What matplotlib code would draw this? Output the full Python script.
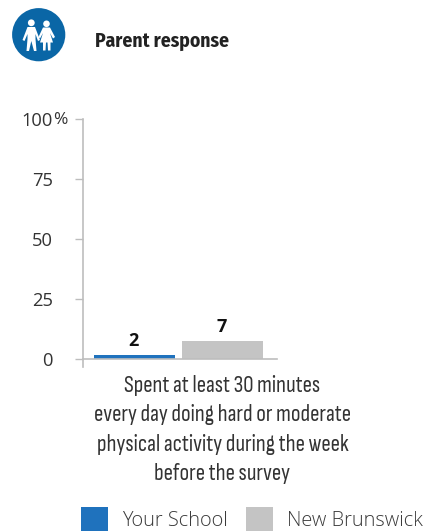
import matplotlib
matplotlib.use("Agg")
import matplotlib.pyplot as plt
from matplotlib.patches import Circle, Polygon, Rectangle

W = 424
H = 531

title = "Parent response"
category = "Spent at least 30 minutes\nevery day doing hard or moderate\nphysical activity during the week\nbefore the survey"
series_names = ["Your School", "New Brunswick"]
series_values = [2, 7]
bar_values = [1.6, 7.4]
series_colors = ["#1f72bd", "#c4c4c4"]
y_ticks = [0, 25, 50, 75, 100]
y_labels = ["0", "25", "50", "75", "100"]

NARROW = ["Fira Sans Condensed", "Liberation Sans"]
BODY = ["Sofia Sans Condensed", "Fira Sans Condensed", "Liberation Sans"]
WIDE = ["Open Sans"]


def draw_icon(fig):
    # overlay in pixel coords, y down
    ov = fig.add_axes([0, 0, 1, 1], facecolor="none")
    ov.set_xlim(0, W)
    ov.set_ylim(H, 0)
    ov.axis("off")
    ov.add_patch(Circle((38.7, 34.7), 26.6, color="#0a66a6", lw=0))
    # boy
    ov.add_patch(Circle((31.3, 22.8), 3.4, color="white", lw=0))
    ov.add_patch(Polygon([(27.5, 27), (35, 27), (40, 40), (38, 41), (35.5, 34), (35.5, 39),
                          (36.5, 51), (34, 51), (31.3, 41), (29, 51), (26.5, 51),
                          (27.5, 39), (27.5, 34), (24.5, 41), (22.5, 40)],
                         color="white", lw=0))
    # girl
    ov.add_patch(Circle((46.5, 23.8), 3.3, color="white", lw=0))
    ov.add_patch(Polygon([(43, 27.5), (50, 27.5), (55, 37), (53, 38.5), (50, 33), (53, 42.5),
                          (50.5, 42.5), (50.5, 50.5), (48, 50.5), (47.5, 42.5), (46, 42.5),
                          (45.5, 50.5), (43, 50.5), (43, 42.5), (40, 42.5), (43, 33),
                          (40, 38.5), (38.5, 37)],
                         color="white", lw=0))


def main():
    fig = plt.figure(figsize=(W / 100, H / 100), dpi=100, facecolor="white")
    draw_icon(fig)

    ax = fig.add_axes([82.5 / W, 1 - 358.7 / H, 194.5 / W, 240.2 / H], facecolor="none")
    ax.set_xlim(-96, 98.5)
    ax.set_ylim(0, 100)
    offsets = [-44, 44]
    ax.bar(offsets, bar_values, width=81, color=series_colors, lw=0, zorder=2)
    for x, y, v in zip(offsets, bar_values, series_values):
        ax.annotate(str(v), (x - 1, y), xytext=(0, 5), textcoords="offset pixels", ha="center", va="bottom",
                    fontsize=13, fontweight="bold", family="Open Sans", color="#111111")

    for s in ["top", "right"]:
        ax.spines[s].set_visible(False)
    for s in ["left", "bottom"]:
        ax.spines[s].set_color("#bdbdbd")
        ax.spines[s].set_linewidth(1.2)
    ax.spines["left"].set_bounds(-3.4, 100)
    ax.spines["left"].set_zorder(1)
    ax.set_xticks([])
    ax.set_yticks(y_ticks)
    ax.set_yticklabels(y_labels)
    ax.tick_params(axis="y", length=5.5, width=1, color="#bdbdbd", pad=16, labelsize=13.2, labelcolor="#333333")
    for t in ax.get_yticklabels():
        t.set_family(WIDE)
    ax.text(-125, 100, "%", ha="left", va="center_baseline", fontsize=12.5, family=WIDE,
            color="#333333", clip_on=False)

    fig.text(95 / W, 1 - 41 / H, title, fontsize=14, fontweight="bold", family=NARROW, color="#222222",
             va="center", ha="left")
    fig.text(222.5 / W, 1 - 429.5 / H, category, fontsize=16.6, family=BODY, color="#333333",
             ha="center", va="center", linespacing=1.49)

    # legend
    for name, color, sx, tx in zip(series_names, series_colors, [81, 246], [122, 287]):
        fig.add_artist(Rectangle((sx / W, 0), 27 / W, 24 / H, transform=fig.transFigure, color=color, lw=0))
        fig.text(tx / W, 1 - 521.5 / H, name, fontsize=14.4, family="Open Sans", fontweight=300, color="#3a3a3a",
                 va="center", ha="left")

    fig.savefig("out.png", dpi=100)


if __name__ == "__main__":
    main()
